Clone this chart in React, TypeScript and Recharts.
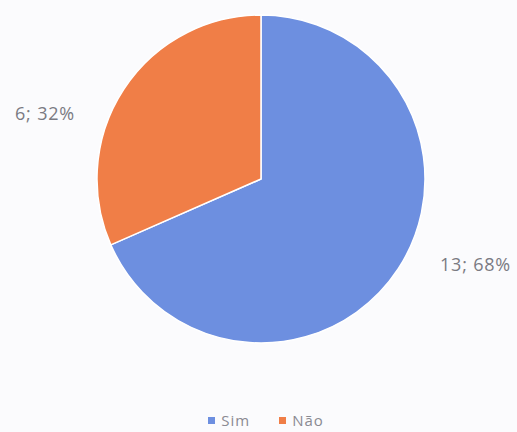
import React from "react";
import { PieChart, Pie, Cell, Legend } from "recharts";

const categories = ["Sim", "Não"];
const values = [13, 6];
const percents = ["68%", "32%"];
const colors = ["#6d8fe0", "#f07e47"];

const data = categories.map((name, i) => ({ name, value: values[i], pct: percents[i] }));

const RADIAN = Math.PI / 180;

const renderLabel = (props: any) => {
  const { cx, cy, midAngle, outerRadius, index } = props;
  const cos = Math.cos(-midAngle * RADIAN);
  const sin = Math.sin(-midAngle * RADIAN);
  const right = cos >= 0;
  const x = cx + (right ? outerRadius + 15 : -(outerRadius + 22));
  const y = cy + sin * outerRadius * (right ? 0.95 : 0.38) - (right ? 0 : 32);
  const d = data[index];
  return (
    <text
      x={x}
      y={y}
      textAnchor={right ? "start" : "end"}
      dominantBaseline="central"
      fill="#7a7a82"
      fontSize={18}
      letterSpacing={0.8}
      fontFamily="Open Sans, sans-serif"
    >
      {`${d.value}; ${d.pct}`}
    </text>
  );
};

const renderLegend = () => (
  <div
    style={{
      display: "flex",
      justifyContent: "center",
      gap: 29,
      fontFamily: "Open Sans, sans-serif",
      fontSize: 15,
      letterSpacing: 1,
      color: "#8a8a92",
      paddingLeft: 15,
    }}
  >
    {categories.map((c, i) => (
      <span key={c} style={{ display: "inline-flex", alignItems: "center" }}>
        <span style={{ display: "inline-block", width: 7, height: 7, background: colors[i], marginRight: 6 }} />
        {c}
      </span>
    ))}
  </div>
);

export default function App() {
  return (
    <div style={{ position: "absolute", left: 0, top: 0, width: 517, height: 432, background: "#fbfbfd" }}>
      <PieChart width={517} height={432} margin={{ top: 0, left: 0, right: 0, bottom: 0 }}>
        <Pie
          data={data}
          dataKey="value"
          nameKey="name"
          cx={261}
          cy={179}
          outerRadius={164}
          startAngle={90}
          endAngle={-270}
          stroke="#ffffff"
          strokeWidth={1.5}
          label={renderLabel}
          labelLine={false}
          isAnimationActive={false}
        >
          {data.map((d, i) => (
            <Cell key={d.name} fill={colors[i]} />
          ))}
        </Pie>
        <Legend
          content={renderLegend}
          layout="horizontal"
          align="center"
          verticalAlign="bottom"
          wrapperStyle={{ top: 410, left: 0, width: 517 }}
        />
      </PieChart>
    </div>
  );
}
